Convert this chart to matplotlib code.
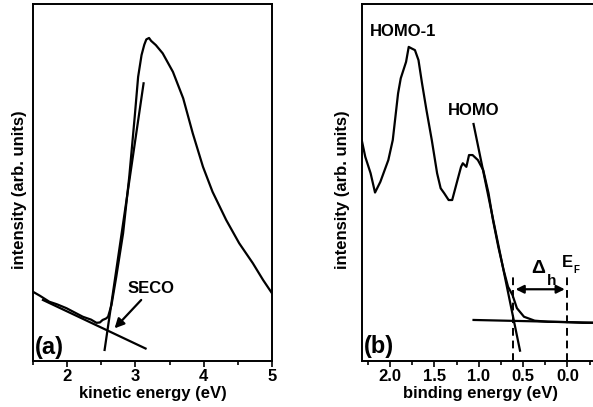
import matplotlib
matplotlib.use('Agg')
import matplotlib.pyplot as plt
from matplotlib.ticker import MultipleLocator

plt.rcParams['font.family'] = ['Liberation Sans', 'DejaVu Sans']
plt.rcParams['font.weight'] = 'bold'
plt.rcParams['font.size'] = 12

# (a) secondary electron cutoff spectrum
ke = [1.50, 1.60, 1.74, 1.85, 1.99, 2.10, 2.23, 2.35, 2.43, 2.48, 2.52, 2.57, 2.60,
      2.65, 2.72, 2.82, 2.91, 2.99, 3.04, 3.09, 3.13, 3.16, 3.20, 3.23, 3.30,
      3.40, 3.55, 3.70, 3.84, 3.99, 4.13, 4.33, 4.52, 4.72, 4.87, 5.00]
ke_int = [19.4, 18.3, 16.6, 15.9, 14.8, 13.7, 12.4, 11.6, 10.7, 10.8, 11.5, 11.9, 12.4,
          15.7, 23.6, 35.8, 51.6, 68.4, 79.6, 85.7, 88.6, 90.1, 90.5, 89.7, 88.5,
          86.2, 81.0, 73.6, 63.8, 54.4, 47.4, 39.5, 33.0, 27.4, 22.7, 19.0]
ke_fit_steep = [2.549, 3.12]
ke_fit_steep_y = [3.1, 77.8]
ke_fit_base = [1.646, 3.149]
ke_fit_base_y = [17.1, 3.5]

# (b) valence band spectrum
be = [2.32, 2.28, 2.22, 2.17, 2.11, 2.02, 1.97, 1.91, 1.88, 1.82, 1.79, 1.76, 1.72,
      1.68, 1.64, 1.59, 1.53, 1.47, 1.43, 1.39, 1.34, 1.30, 1.24, 1.20, 1.18, 1.14,
      1.11, 1.07, 1.01, 0.95, 0.89, 0.84, 0.78, 0.72, 0.67, 0.62, 0.57, 0.49, 0.37,
      0.22, 0.03, -0.17, -0.36]
be_int = [61.9, 57.2, 52.6, 47.2, 50.2, 56.3, 61.9, 75.0, 79.2, 83.8, 88.0, 87.6, 87.1,
          84.3, 77.8, 70.3, 61.9, 52.6, 48.4, 47.0, 45.1, 45.1, 50.7, 54.4, 55.4, 54.4,
          57.7, 57.7, 56.3, 53.5, 47.0, 39.5, 32.0, 25.5, 20.8, 18.5, 14.8, 12.4, 11.3,
          11.0, 10.9, 10.7, 10.7]
be_fit_steep = [1.059, 0.535]
be_fit_steep_y = [66.4, 2.9]
be_fit_base = [1.059, -0.36]
be_fit_base_y = [11.5, 10.7]
homo_onset = 0.61
fermi = 0.0

fig = plt.figure(figsize=(5.93, 4.07), dpi=100)
ax1 = fig.add_axes([0.0556, 0.113, 0.403, 0.877])
ax2 = fig.add_axes([0.610, 0.113, 0.40, 0.877])

lw = 1.6
for ax in (ax1, ax2):
    for sp in ax.spines.values():
        sp.set_linewidth(1.4)
    ax.set_yticks([])
    ax.set_ylim(0, 100)
    ax.tick_params(axis='x', which='major', direction='out', length=4, width=1.2,
                   labelsize=12, pad=2)
    ax.tick_params(axis='x', which='minor', direction='out', length=3, width=1.2)
    ax.set_ylabel('intensity (arb. units)', fontsize=12, fontweight='bold')
ax1.yaxis.set_label_coords(-0.025, 0.48)
ax2.yaxis.set_label_coords(-0.05, 0.48)

# panel (a)
ax1.plot(ke, ke_int, color='black', lw=lw)
ax1.plot(ke_fit_steep, ke_fit_steep_y, color='black', lw=lw)
ax1.plot(ke_fit_base, ke_fit_base_y, color='black', lw=lw)
ax1.set_xlim(1.5, 5.0)
ax1.xaxis.set_major_locator(MultipleLocator(1))
ax1.xaxis.set_minor_locator(MultipleLocator(0.5))
ax1.set_xlabel('kinetic energy (eV)', fontsize=12, fontweight='bold', labelpad=1)
ax1.annotate('', xy=(2.695, 9.15), xytext=(3.085, 17.1),
             arrowprops=dict(arrowstyle='-|>', color='black', lw=1.6,
                             mutation_scale=14, shrinkA=0, shrinkB=0))
ax1.text(3.23, 20.4, 'SECO', ha='center', va='center', fontsize=12, fontweight='bold')
ax1.text(1.74, 3.8, '(a)', ha='center', va='center', fontsize=17, fontweight='bold')

# panel (b)
ax2.plot(be, be_int, color='black', lw=lw)
ax2.plot(be_fit_steep, be_fit_steep_y, color='black', lw=lw)
ax2.plot(be_fit_base, be_fit_base_y, color='black', lw=lw)
for xv in (homo_onset, fermi):
    ax2.plot([xv, xv], [0, 24.6], color='black', lw=1.4, ls=(0, (4, 2.5)))
ax2.annotate('', xy=(fermi + 0.03, 20.1), xytext=(homo_onset - 0.025, 20.1),
             arrowprops=dict(arrowstyle='<|-|>', color='black', lw=1.6,
                             mutation_scale=12, shrinkA=0, shrinkB=0))
ax2.set_xlim(2.32, -0.355)
ax2.xaxis.set_major_locator(MultipleLocator(0.5))
ax2.xaxis.set_minor_locator(MultipleLocator(0.25))
ax2.xaxis.set_major_formatter(plt.FormatStrFormatter('%.1f'))
ax2.set_xlabel('binding energy (eV)', fontsize=12, fontweight='bold', labelpad=1)
ax2.text(1.857, 92.3, 'HOMO-1', ha='center', va='center', fontsize=12, fontweight='bold')
ax2.text(1.059, 70.3, 'HOMO', ha='center', va='center', fontsize=12, fontweight='bold')
ax2.text(0.33, 25.8, 'Δ', ha='center', va='center', fontsize=14)
ax2.text(0.18, 22.4, 'h', ha='center', va='center', fontsize=11, fontweight='bold')
ax2.text(0.0, 27.6, 'E', ha='center', va='center', fontsize=12, fontweight='bold')
ax2.text(-0.105, 25.6, 'F', ha='center', va='center', fontsize=7, fontweight='bold')
ax2.text(2.126, 4.0, '(b)', ha='center', va='center', fontsize=17, fontweight='bold')

fig.savefig('out.png', dpi=100)
